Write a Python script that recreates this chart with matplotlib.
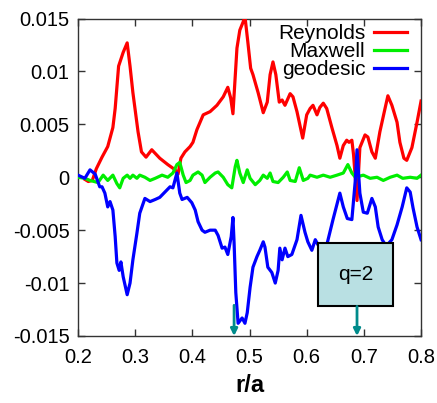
import matplotlib
matplotlib.use("Agg")
import matplotlib.pyplot as plt
from matplotlib.patches import Rectangle

plt.rcParams['font.family'] = ['Liberation Sans', 'DejaVu Sans']

# ---- data ----
rey_x = [0.212, 0.218, 0.225, 0.232, 0.242, 0.252, 0.261, 0.265, 0.268, 0.271, 0.279, 0.286,
         0.291, 0.296, 0.305, 0.311, 0.319, 0.329, 0.343, 0.357, 0.370, 0.375, 0.380, 0.387,
         0.396, 0.401, 0.408, 0.419, 0.431, 0.443, 0.454, 0.462, 0.467, 0.471, 0.478, 0.483,
         0.489, 0.492, 0.497, 0.502, 0.506, 0.515, 0.524, 0.531, 0.536, 0.541, 0.546, 0.552,
         0.557, 0.562, 0.571, 0.576, 0.583, 0.593, 0.600, 0.606, 0.611, 0.618, 0.623, 0.629,
         0.635, 0.644, 0.653, 0.658, 0.664, 0.670, 0.674, 0.679, 0.682, 0.688, 0.693, 0.702,
         0.707, 0.714, 0.720, 0.728, 0.737, 0.742, 0.749, 0.758, 0.763, 0.770, 0.775, 0.784,
         0.793, 0.800]
rey_y = [-0.0002, -0.0004, -0.0003, 0.0008, 0.0019, 0.0029, 0.0047, 0.0065, 0.0085, 0.0105, 0.0118, 0.0127,
         0.0105, 0.0080, 0.0043, 0.0024, 0.0019, 0.0026, 0.0018, 0.0012, 0.0007, 0.0003, 0.0018, 0.0024,
         0.0029, 0.0033, 0.0045, 0.0059, 0.0062, 0.0068, 0.0076, 0.0085, 0.0075, 0.0060, 0.0122, 0.0139,
         0.0147, 0.0152, 0.0128, 0.0103, 0.0097, 0.0080, 0.0061, 0.0071, 0.0097, 0.0109, 0.0097, 0.0071,
         0.0073, 0.0068, 0.0079, 0.0076, 0.0062, 0.0037, 0.0059, 0.0065, 0.0068, 0.0059, 0.0066, 0.0070,
         0.0065, 0.0047, 0.0030, 0.0018, 0.0030, 0.0035, 0.0033, 0.0035, 0.0021, -0.0022, 0.0028, 0.0040,
         0.0038, 0.0024, 0.0018, 0.0043, 0.0065, 0.0077, 0.0068, 0.0052, 0.0033, 0.0018, 0.0016, 0.0028,
         0.0052, 0.0072]

max_x = [0.200, 0.212, 0.221, 0.235, 0.244, 0.252, 0.261, 0.268, 0.273, 0.279, 0.286, 0.291,
         0.296, 0.303, 0.308, 0.317, 0.326, 0.335, 0.347, 0.357, 0.366, 0.373, 0.378, 0.384,
         0.389, 0.396, 0.401, 0.410, 0.417, 0.422, 0.431, 0.440, 0.445, 0.454, 0.462, 0.469,
         0.475, 0.478, 0.483, 0.489, 0.496, 0.501, 0.510, 0.518, 0.524, 0.531, 0.536, 0.541,
         0.550, 0.559, 0.566, 0.571, 0.580, 0.587, 0.594, 0.602, 0.606, 0.618, 0.629, 0.641,
         0.653, 0.664, 0.672, 0.679, 0.685, 0.699, 0.711, 0.723, 0.734, 0.746, 0.758, 0.768,
         0.781, 0.793, 0.800]
max_y = [0.0000, -0.0001, -0.0003, -0.0005, 0.0002, -0.0003, 0.0002, -0.0006, -0.0010, -0.0001, 0.0002, -0.0001,
         0.0002, -0.0001, 0.0002, 0.0000, -0.0003, -0.0001, 0.0002, 0.0000, 0.0004, 0.0012, 0.0014, 0.0002,
         -0.0005, -0.0003, 0.0002, 0.0005, 0.0002, -0.0005, 0.0000, 0.0004, 0.0005, 0.0000, -0.0007, -0.0010,
         0.0010, 0.0016, 0.0004, -0.0005, 0.0007, -0.0001, -0.0007, -0.0003, 0.0002, -0.0001, 0.0004, -0.0004,
         -0.0005, 0.0000, 0.0005, -0.0003, -0.0004, 0.0009, -0.0003, -0.0001, 0.0002, 0.0000, 0.0002, 0.0000,
         0.0002, 0.0004, 0.0012, 0.0004, 0.0000, 0.0002, -0.0001, 0.0000, -0.0003, 0.0000, 0.0002, -0.0001,
         0.0000, -0.0001, 0.0002]

geo_x = [0.200, 0.212, 0.221, 0.230, 0.238, 0.242, 0.247, 0.252, 0.256, 0.261, 0.265, 0.268,
         0.272, 0.275, 0.279, 0.286, 0.291, 0.296, 0.303, 0.308, 0.317, 0.326, 0.335, 0.343,
         0.352, 0.361, 0.366, 0.373, 0.378, 0.382, 0.391, 0.399, 0.405, 0.410, 0.417, 0.422,
         0.431, 0.440, 0.445, 0.452, 0.457, 0.462, 0.468, 0.471, 0.473, 0.476, 0.480, 0.487,
         0.492, 0.496, 0.501, 0.506, 0.513, 0.518, 0.524, 0.527, 0.532, 0.539, 0.545, 0.550,
         0.553, 0.557, 0.562, 0.567, 0.574, 0.583, 0.590, 0.597, 0.602, 0.609, 0.615, 0.620,
         0.627, 0.636, 0.646, 0.658, 0.664, 0.671, 0.679, 0.685, 0.688, 0.693, 0.699, 0.706,
         0.714, 0.720, 0.725, 0.732, 0.739, 0.749, 0.758, 0.767, 0.775, 0.781, 0.786, 0.793,
         0.800]
geo_y = [0.0002, -0.0001, 0.0007, 0.0003, -0.0009, -0.0009, -0.0015, -0.0028, -0.0023, -0.0031, -0.0056, -0.0081,
         -0.0088, -0.0080, -0.0094, -0.0111, -0.0100, -0.0078, -0.0053, -0.0034, -0.0020, -0.0023, -0.0021, -0.0019,
         -0.0014, -0.0009, -0.0010, 0.0004, -0.0015, -0.0021, -0.0019, -0.0024, -0.0031, -0.0042, -0.0050, -0.0052,
         -0.0050, -0.0050, -0.0055, -0.0067, -0.0066, -0.0073, -0.0056, -0.0038, -0.0062, -0.0109, -0.0138, -0.0133,
         -0.0138, -0.0128, -0.0104, -0.0085, -0.0075, -0.0069, -0.0061, -0.0066, -0.0085, -0.0090, -0.0100, -0.0088,
         -0.0067, -0.0078, -0.0067, -0.0075, -0.0073, -0.0059, -0.0036, -0.0052, -0.0061, -0.0069, -0.0059, -0.0064,
         -0.0069, -0.0062, -0.0040, -0.0015, -0.0028, -0.0039, -0.0040, -0.0003, 0.0026, -0.0015, -0.0033, -0.0034,
         -0.0020, -0.0028, -0.0047, -0.0059, -0.0065, -0.0059, -0.0045, -0.0028, -0.0010, -0.0014, -0.0029, -0.0047,
         -0.0059]

labels = ["Reynolds", "Maxwell", "geodesic"]
colors = ["#ff0000", "#00ee00", "#0000ff"]
x_ticks = [0.2, 0.3, 0.4, 0.5, 0.6, 0.7, 0.8]
x_ticklabels = ["0.2", "0.3", "0.4", "0.5", "0.6", "0.7", "0.8"]
y_ticks = [-0.015, -0.01, -0.005, 0, 0.005, 0.01, 0.015]
y_ticklabels = ["-0.015", "-0.01", "-0.005", "0", "0.005", "0.01", "0.015"]
marker_x = [0.473, 0.688]
box_text = "q=2"

# ---- figure ----
fig = plt.figure(figsize=(4.37, 4.03), dpi=100)
ax = fig.add_axes([0.1785, 0.1663, 0.785, 0.7877])

lw = 2.3
ax.plot(rey_x, rey_y, color=colors[0], lw=lw, label=labels[0], zorder=3)
ax.plot(max_x, max_y, color=colors[1], lw=lw, label=labels[1], zorder=3)
ax.plot(geo_x, geo_y, color=colors[2], lw=lw, label=labels[2], zorder=3)

ax.set_xlim(0.2, 0.8)
ax.set_ylim(-0.015, 0.015)
ax.set_xticks(x_ticks)
ax.set_xticklabels(x_ticklabels)
ax.set_yticks(y_ticks)
ax.set_yticklabels(y_ticklabels)
ax.tick_params(direction='in', top=True, right=True, length=5, width=1,
               labelsize=14.5, color='#333333')
ax.tick_params(axis='x', pad=9)
ax.tick_params(axis='y', pad=6)
for s in ax.spines.values():
    s.set_linewidth(1.0)
    s.set_color('#333333')

ax.set_xlabel("r/a", fontsize=17, fontweight='bold', labelpad=5)

leg = ax.legend(loc='upper right', bbox_to_anchor=(0.965, 0.988), frameon=False,
                markerfirst=False, fontsize=15, handlelength=1.6, handletextpad=0.4,
                labelspacing=-0.05, borderaxespad=0.0, borderpad=0.1)

# annotation box and arrows
box = Rectangle((0.62, -0.0122), 0.131, 0.0060, facecolor='#b9e0e3',
                edgecolor='black', lw=1.5, zorder=5)
ax.add_patch(box)
ax.text(0.6855, -0.0092, box_text, ha='center', va='center', fontsize=15, zorder=6)

arrow_color = '#008b8b'
ax.annotate('', xy=(marker_x[0], -0.015), xytext=(marker_x[0], -0.0121),
            arrowprops=dict(arrowstyle='-|>', color=arrow_color, lw=2,
                            mutation_scale=10, shrinkA=0, shrinkB=0), zorder=6)
ax.annotate('', xy=(marker_x[1], -0.015), xytext=(marker_x[1], -0.0122),
            arrowprops=dict(arrowstyle='-|>', color=arrow_color, lw=2,
                            mutation_scale=10, shrinkA=0, shrinkB=0), zorder=6)

fig.savefig("out.png", dpi=100)
